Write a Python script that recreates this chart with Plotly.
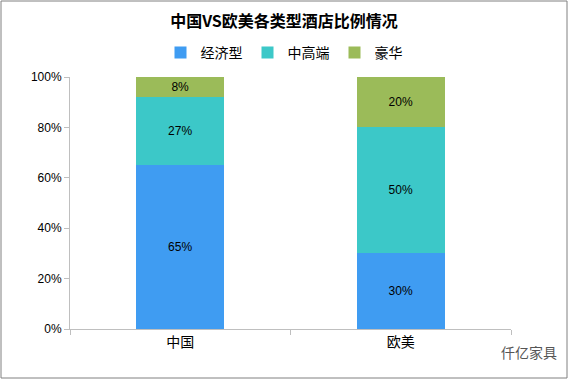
import plotly.graph_objects as go

categories = ["中国", "欧美"]
series_names = ["经济型", "中高端", "豪华"]
economy = [65, 30]
midhigh = [27, 50]
luxury = [8, 20]
y_ticks = [0, 20, 40, 60, 80, 100]
y_tick_labels = ["0%", "20%", "40%", "60%", "80%", "100%"]

colors = ["#3f9cf2", "#3cc8c8", "#9bbb59"]
values = [economy, midhigh, luxury]

fig = go.Figure()
for name, vals, col in zip(series_names, values, colors):
    fig.add_trace(go.Bar(
        x=categories, y=vals, name=name,
        marker=dict(color=col, line=dict(width=0)),
        text=[f"{v}%" for v in vals], textposition="inside",
        insidetextanchor="middle",
        textfont=dict(color="#000000", size=12, family="Liberation Sans, Arial"),
        width=0.4,
    ))

W, H = 568, 379
ml, mr, mt, mb = 70, 57, 77, 50
pw, ph = W - ml - mr, H - mt - mb

fig.update_layout(
    width=W, height=H, barmode="stack",
    margin=dict(l=ml, r=mr, t=mt, b=mb, autoexpand=False),
    paper_bgcolor="white", plot_bgcolor="white",
    title=dict(text="<b>中国VS欧美各类型酒店比例情况</b>", x=0.5, xanchor="center",
               y=1 - 21 / H, yanchor="middle",
               font=dict(size=16, color="#000000", family="Noto Sans CJK SC")),
    legend=dict(orientation="h", x=0.5, xanchor="center", xref="container",
                yref="container", y=1 - 53 / H, yanchor="middle",
                font=dict(size=14, color="#000000", family="Noto Sans CJK SC"),
                traceorder="normal", itemwidth=30),
    showlegend=True,
    xaxis=dict(type="category", showline=True, linecolor="#bfbfbf", linewidth=1,
               ticks="outside", tickson="boundaries", ticklen=5, tickcolor="#bfbfbf",
               tickfont=dict(size=14, color="#000000", family="Noto Sans CJK SC"),
               showgrid=False, range=[-0.5, 1.5]),
    yaxis=dict(range=[0, 100], tickvals=y_ticks, ticktext=y_tick_labels,
               showline=True, linecolor="#bfbfbf", linewidth=1, ticks="outside",
               ticklen=5, tickcolor="#bfbfbf", showgrid=False, zeroline=False,
               tickfont=dict(size=12, color="#000000", family="Liberation Sans, Arial")),
    shapes=[dict(type="rect", xref="paper", yref="paper",
                 x0=-(ml - 1) / pw, x1=1 + (mr - 1) / pw,
                 y0=-(mb - 1) / ph, y1=1 + (mt - 1) / ph,
                 line=dict(color="#808080", width=1), fillcolor="rgba(0,0,0,0)")],
    annotations=[dict(text="仟亿家具", xref="paper", yref="paper",
                      x=1 + 48 / pw, y=-(23) / ph, xanchor="right", yanchor="middle",
                      showarrow=False,
                      font=dict(size=14, color="#555555", family="Noto Sans CJK SC"))],
)

fig.write_html("out.html", config={"displayModeBar": False},
               post_script="document.body.style.margin='0';document.body.style.overflow='hidden';")
